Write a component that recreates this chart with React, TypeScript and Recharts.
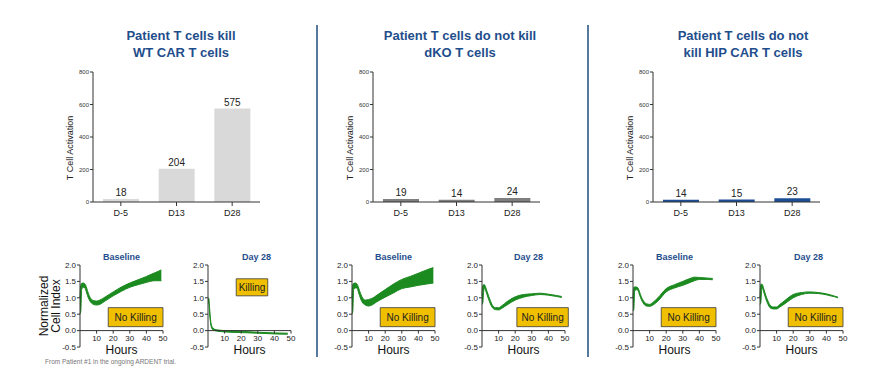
import React from "react";
import {
  Area,
  Bar,
  BarChart,
  ComposedChart,
  Label,
  LabelList,
  ReferenceArea,
  ReferenceLine,
  XAxis,
  YAxis,
} from "recharts";

const FONT = "Arial, 'Liberation Sans', sans-serif";
const BLUE = "#1f4e8c";
const GREEN = "#1b8a1f";

// bar charts: T cell activation per time point
const days = ["D-5", "D13", "D28"];
const wtActivation = [18, 204, 575];
const dkoActivation = [19, 14, 24];
const hipActivation = [14, 15, 23];
const activationTicks = [0, 200, 400, 600, 800];

// killing assays: normalized cell index over hours (band = low..high)
const indexTicks = [-0.5, 0, 0.5, 1, 1.5, 2];
const hourTicks = [10, 20, 30, 40, 50];

const wtBaseHours = [0, 0.5, 1, 2, 3, 4, 5, 6, 8, 10, 12, 15, 20, 25, 30, 35, 40, 45, 49];
const wtBaseLow = [0.5, 0.6, 1.25, 1.32, 1.3, 1.15, 1.0, 0.9, 0.8, 0.78, 0.8, 0.9, 1.06, 1.2, 1.32, 1.4, 1.47, 1.52, 1.52];
const wtBaseHigh = [1.0, 1.38, 1.44, 1.45, 1.42, 1.3, 1.14, 1.02, 0.92, 0.9, 0.93, 1.02, 1.18, 1.33, 1.45, 1.55, 1.65, 1.76, 1.85];

const wtD28Hours = [0, 0.5, 1, 1.5, 2, 3, 4, 6, 10, 20, 30, 40, 48];
const wtD28Low = [0.85, 0.85, 0.5, 0.25, 0.1, 0.02, 0, -0.02, -0.04, -0.06, -0.08, -0.1, -0.11];
const wtD28High = [1.0, 0.98, 0.65, 0.35, 0.18, 0.08, 0.04, 0.02, 0, -0.02, -0.05, -0.07, -0.08];

const dkoBaseHours = [0, 0.5, 1, 2, 3, 4, 5, 6, 8, 10, 12, 15, 20, 25, 30, 35, 40, 45, 49];
const dkoBaseLow = [0.5, 0.6, 1.25, 1.3, 1.3, 1.15, 1.0, 0.88, 0.78, 0.75, 0.78, 0.88, 1.02, 1.15, 1.28, 1.33, 1.38, 1.42, 1.45];
const dkoBaseHigh = [1.0, 1.4, 1.44, 1.45, 1.42, 1.3, 1.15, 1.03, 0.93, 0.95, 0.98, 1.08, 1.25, 1.42, 1.56, 1.65, 1.75, 1.85, 1.92];

const dkoD28Hours = [0, 0.5, 1, 1.5, 2, 3, 4, 5, 6, 8, 10, 12, 15, 20, 25, 30, 35, 40, 45, 48];
const dkoD28Low = [0.8, 0.85, 1.2, 1.3, 1.25, 1.1, 0.95, 0.82, 0.72, 0.64, 0.63, 0.68, 0.78, 0.93, 1.02, 1.07, 1.1, 1.08, 1.04, 1.01];
const dkoD28High = [1.05, 1.38, 1.4, 1.4, 1.35, 1.2, 1.05, 0.92, 0.8, 0.7, 0.7, 0.76, 0.88, 1.03, 1.1, 1.12, 1.14, 1.11, 1.07, 1.04];

const hipBaseHours = [0, 0.5, 1, 2, 3, 4, 5, 6, 8, 10, 12, 15, 20, 25, 30, 35, 37, 40, 45, 48];
const hipBaseLow = [0.6, 0.65, 1.2, 1.25, 1.22, 1.08, 0.95, 0.85, 0.75, 0.74, 0.78, 0.9, 1.18, 1.3, 1.38, 1.48, 1.52, 1.56, 1.56, 1.55];
const hipBaseHigh = [1.0, 1.32, 1.33, 1.33, 1.3, 1.17, 1.03, 0.93, 0.82, 0.8, 0.86, 1.0, 1.28, 1.4, 1.5, 1.6, 1.63, 1.62, 1.6, 1.59];

const hipD28Hours = [0, 0.5, 1, 1.5, 2, 3, 4, 5, 6, 8, 10, 12, 15, 20, 25, 30, 35, 40, 45, 47];
const hipD28Low = [0.8, 0.85, 1.25, 1.3, 1.22, 1.05, 0.9, 0.78, 0.7, 0.66, 0.66, 0.72, 0.82, 1.0, 1.1, 1.14, 1.13, 1.09, 1.03, 1.0];
const hipD28High = [1.0, 1.4, 1.42, 1.4, 1.32, 1.15, 1.0, 0.88, 0.78, 0.72, 0.72, 0.8, 0.92, 1.1, 1.16, 1.18, 1.16, 1.12, 1.05, 1.02];

type Box = { x1: number; x2: number; y1: number; y2: number; text: string };
const noKilling: Box = { x1: 17, x2: 50, y1: 0.12, y2: 0.7, text: "No Killing" };
const noKillingWide: Box = { x1: 21, x2: 52, y1: 0.12, y2: 0.7, text: "No Killing" };
const killing: Box = { x1: 17, x2: 36, y1: 1.06, y2: 1.58, text: "Killing" };

const PLOT_H = 82;
const ZERO_DROP = PLOT_H * 0.2; // distance between -0.5 and 0 on the index axis

function HourTick(props: any) {
  const { x, y, payload } = props;
  const y0 = y - ZERO_DROP;
  return (
    <g>
      <line x1={x} x2={x} y1={y0} y2={y0 + 3} stroke="#333" />
      <text x={x} y={y0 + 10.5} textAnchor="middle" fontSize={8} fill="#222" fontFamily={FONT}>
        {payload.value}
      </text>
    </g>
  );
}

function NormLabel(props: any) {
  const vb = props.viewBox ?? { x: 35, y: 15, width: 30, height: PLOT_H };
  const cx = vb.x - 2;
  const cy = vb.y + vb.height / 2;
  return (
    <text
      transform={`translate(${cx},${cy}) rotate(-90)`}
      textAnchor="middle"
      fontSize={12}
      fill="#111"
      fontFamily={FONT}
    >
      <tspan x={0} y={0}>Normalized</tspan>
      <tspan x={0} y={12}>Cell Index</tspan>
    </text>
  );
}

function ActivationLabel(props: any) {
  const vb = props.viewBox ?? { x: 0, y: 10, width: 38, height: 130 };
  const cx = vb.x + 18;
  const cy = vb.y + vb.height / 2 + 11;
  return (
    <text
      transform={`translate(${cx},${cy}) rotate(-90)`}
      textAnchor="middle"
      fontSize={9}
      fill="#222"
      fontFamily={FONT}
    >
      T Cell Activation
    </text>
  );
}

function ActivationChart({ values, color, plotLeft }: { values: number[]; color: string; plotLeft: number }) {
  const rows = days.map((day, i) => ({ day, value: values[i] }));
  return (
    <div style={{ position: "absolute", left: plotLeft - 38, top: 62 }}>
      <BarChart
        width={38 + 167 + 10}
        height={162}
        data={rows}
        margin={{ top: 10, right: 10, bottom: 0, left: 0 }}
        style={{ fontFamily: FONT }}
      >
        <XAxis
          dataKey="day"
          height={22}
          tick={{ fontSize: 9, fill: "#222" }}
          tickSize={4}
          tickMargin={4}
          stroke="#333"
        />
        <YAxis
          width={38}
          domain={[0, 800]}
          ticks={activationTicks}
          interval={0}
          tick={{ fontSize: 6, fill: "#333" }}
          tickSize={3}
          tickMargin={1}
          stroke="#333"
        >
          <Label content={ActivationLabel} />
        </YAxis>
        <Bar dataKey="value" fill={color} barSize={36} isAnimationActive={false}>
          <LabelList dataKey="value" position="top" offset={3} fontSize={10} fill="#222" />
        </Bar>
      </BarChart>
    </div>
  );
}

type KillProps = {
  title: string;
  hours: number[];
  low: number[];
  high: number[];
  plotLeft: number;
  box: Box;
  axisTitle?: boolean;
  titleShift?: number;
};

function KillingChart({ title, hours, low, high, plotLeft, box, axisTitle = false, titleShift = 0 }: KillProps) {
  const rows = hours.map((h, i) => ({ h, band: [low[i], high[i]] }));
  const extra = axisTitle ? 35 : 0;
  return (
    <div style={{ position: "absolute", left: plotLeft - 30 - extra, top: 250 }}>
      <div
        style={{
          position: "absolute",
          top: 2,
          left: 30 + extra + titleShift,
          width: 83,
          textAlign: "center",
          font: `bold 9px ${FONT}`,
          lineHeight: "11px",
          color: BLUE,
        }}
      >
        {title}
      </div>
      <ComposedChart
        width={extra + 30 + 83 + 12}
        height={15 + PLOT_H + 20}
        data={rows}
        margin={{ top: 15, right: 12, bottom: 0, left: extra }}
        style={{ fontFamily: FONT }}
      >
        <XAxis
          type="number"
          dataKey="h"
          domain={[0, 50]}
          ticks={hourTicks}
          interval={0}
          axisLine={false}
          tickLine={false}
          tickSize={0}
          tickMargin={0}
          tick={<HourTick />}
          height={20}
        >
          <Label value="Hours" position="insideTop" offset={-2} fontSize={12} fill="#111" />
        </XAxis>
        <YAxis
          width={30}
          domain={[-0.5, 2]}
          ticks={indexTicks}
          interval={0}
          tickFormatter={(v: number) => v.toFixed(1)}
          tick={{ fontSize: 8, fill: "#222" }}
          tickSize={3}
          tickMargin={1}
          stroke="#333"
        >
          {axisTitle && <Label content={NormLabel} />}
        </YAxis>
        <ReferenceLine y={0} stroke="#333" />
        <Area
          type="monotone"
          dataKey="band"
          stroke={GREEN}
          strokeWidth={1}
          fill={GREEN}
          fillOpacity={1}
          isAnimationActive={false}
        />
        <ReferenceArea
          x1={box.x1}
          x2={box.x2}
          y1={box.y1}
          y2={box.y2}
          fill="#f0bf00"
          fillOpacity={1}
          stroke="#3a3a3a"
          strokeWidth={0.8}
          ifOverflow="visible"
          label={{ value: box.text, position: "center", fontSize: 10, fill: "#222" }}
        />
      </ComposedChart>
    </div>
  );
}

function Title({ center, lines }: { center: number; lines: string[] }) {
  return (
    <div
      style={{
        position: "absolute",
        left: center - 150,
        top: 27,
        width: 300,
        textAlign: "center",
        font: `bold 13px ${FONT}`,
        lineHeight: "17px",
        color: BLUE,
      }}
    >
      {lines.map((l) => (
        <div key={l}>{l}</div>
      ))}
    </div>
  );
}

export default function App() {
  const divider = (left: number) => (
    <div style={{ position: "absolute", left, top: 25, width: 1.5, height: 332, background: "#56799f" }} />
  );
  return (
    <div
      style={{
        position: "absolute",
        left: 0,
        top: 0,
        width: 874,
        height: 379,
        background: "#fff",
        overflow: "hidden",
        fontFamily: FONT,
      }}
    >
      <Title center={181} lines={["Patient T cells kill", "WT CAR T cells"]} />
      <Title center={460} lines={["Patient T cells do not kill", "dKO T cells"]} />
      <Title center={743} lines={["Patient T cells do not", "kill HIP CAR T cells"]} />

      {divider(316)}
      {divider(587)}

      <ActivationChart values={wtActivation} color="#d9d9d9" plotLeft={93} />
      <ActivationChart values={dkoActivation} color="#7f7f7f" plotLeft={373} />
      <ActivationChart values={hipActivation} color="#1c4e94" plotLeft={653} />

      <KillingChart title="Baseline" hours={wtBaseHours} low={wtBaseLow} high={wtBaseHigh} plotLeft={80} box={noKilling} axisTitle />
      <KillingChart title="Day 28" hours={wtD28Hours} low={wtD28Low} high={wtD28High} plotLeft={208} box={killing} titleShift={7} />
      <KillingChart title="Baseline" hours={dkoBaseHours} low={dkoBaseLow} high={dkoBaseHigh} plotLeft={352} box={noKilling} />
      <KillingChart title="Day 28" hours={dkoD28Hours} low={dkoD28Low} high={dkoD28High} plotLeft={482} box={noKillingWide} titleShift={5} />
      <KillingChart title="Baseline" hours={hipBaseHours} low={hipBaseLow} high={hipBaseHigh} plotLeft={633} box={noKilling} />
      <KillingChart title="Day 28" hours={hipD28Hours} low={hipD28Low} high={hipD28High} plotLeft={760} box={noKilling} titleShift={7} />

      <div style={{ position: "absolute", left: 45, top: 358, font: `6.5px ${FONT}`, color: "#777" }}>
        From Patient #1 in the ongoing ARDENT trial.
      </div>
    </div>
  );
}
